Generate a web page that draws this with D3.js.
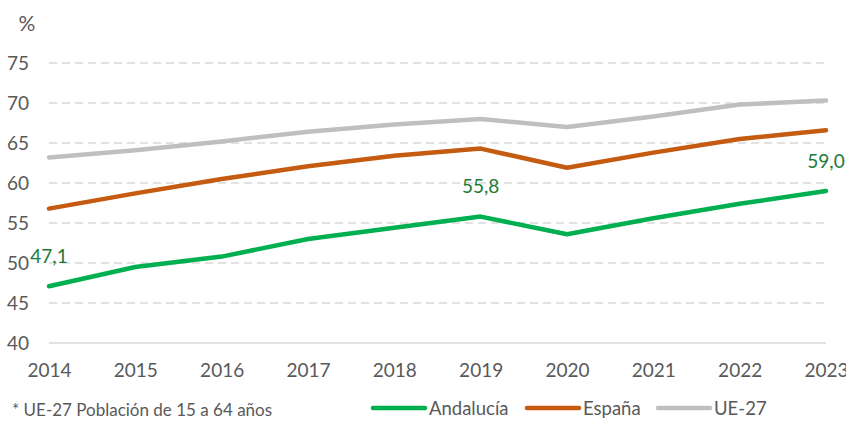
<!DOCTYPE html>
<html>
<head>
<meta charset="utf-8">
<script src="https://cdn.jsdelivr.net/npm/d3@7"></script>
<style>
  body { margin: 0; background: #fff; }
  svg text { font-family: Lato, "Open Sans", sans-serif; }
</style>
</head>
<body>
<svg class="chart"></svg>
<script>
const years = [2014, 2015, 2016, 2017, 2018, 2019, 2020, 2021, 2022, 2023]
const andalucia = [47.1, 49.5, 50.8, 53.0, 54.4, 55.8, 53.6, 55.6, 57.4, 59.0]
const espana = [56.8, 58.7, 60.5, 62.1, 63.4, 64.3, 61.9, 63.8, 65.5, 66.6]
const ue27 = [63.2, 64.1, 65.2, 66.4, 67.3, 68.0, 67.0, 68.3, 69.8, 70.3]
const yTicks = [40, 45, 50, 55, 60, 65, 70, 75]
const seriesNames = ['Andalucía', 'España', 'UE-27']
// only these points get a value label
const labelledYears = [2014, 2019, 2023]

const W = 846, H = 421
const svg = d3.select('svg.chart').attr('width', W).attr('height', H)

const x = d3.scalePoint().domain(years).range([49, 826])
const y = d3.scaleLinear().domain([40, 75]).range([343, 63])

const colors = ['#00B050', '#C55A11', '#BFBFBF']
const series = [andalucia, espana, ue27].map((vals, i) => ({
  name: seriesNames[i],
  color: colors[i],
  values: years.map((yr, j) => ({year: yr, v: vals[j]}))
}))

// gridlines
svg.append('g').selectAll('line')
  .data(yTicks)
  .join('line')
  .attr('x1', 49).attr('x2', 826)
  .attr('y1', d => y(d)).attr('y2', d => y(d))
  .attr('stroke', '#D9D9D9')
  .attr('stroke-width', 1.5)
  .attr('stroke-dasharray', d => d === 40 ? null : '8,5')

// y axis labels
const yAxis = svg.append('g')
  .attr('transform', 'translate(29,0)')
  .call(d3.axisLeft(y).tickValues(yTicks).tickSize(0).tickPadding(0))
yAxis.select('.domain').remove()
yAxis.selectAll('text')
  .attr('fill', '#595959')
  .style('font-size', '19px')
  .attr('dy', '0.36em')

svg.append('text')
  .attr('x', 27).attr('y', 31)
  .attr('text-anchor', 'middle')
  .attr('fill', '#595959')
  .style('font-size', '21px')
  .text('%')

// x axis labels (last one runs off the edge, as in the original)
const xAxis = svg.append('g')
  .attr('transform', 'translate(0,343)')
  .call(d3.axisBottom(x).tickSize(0))
xAxis.select('.domain').remove()
xAxis.selectAll('text')
  .attr('fill', '#595959')
  .attr('y', 34).attr('dy', null)
  .style('font-size', '19px')

// lines
const line = d3.line().x(d => x(d.year)).y(d => y(d.v))
svg.append('g').selectAll('path')
  .data(series.slice().reverse())
  .join('path')
  .attr('d', d => line(d.values))
  .attr('fill', 'none')
  .attr('stroke', d => d.color)
  .attr('stroke-width', 4.5)
  .attr('stroke-linejoin', 'round')
  .attr('stroke-linecap', 'round')

// value labels for Andalucía
const labelPts = series[0].values.filter(d => labelledYears.includes(d.year))
svg.append('g').selectAll('text')
  .data(labelPts)
  .join('text')
  .attr('x', d => x(d.year))
  .attr('y', d => y(d.v) - 23.5)
  .attr('text-anchor', 'middle')
  .attr('fill', '#217A3A')
  .style('font-size', '19px')
  .text(d => d3.format('.1f')(d.v).replace('.', ','))

// footnote
svg.append('text')
  .attr('x', 12).attr('y', 416)
  .attr('fill', '#595959')
  .style('font-size', '17px')
  .text('* UE-27 Población de 15 a 64 años')

// legend
const legendX = [372, 526, 657]
const leg = svg.append('g').selectAll('g')
  .data(series)
  .join('g')
  .attr('transform', (d, i) => `translate(${legendX[i]},408)`)
leg.append('line')
  .attr('x1', 1).attr('x2', 53)
  .attr('stroke', d => d.color)
  .attr('stroke-width', 4.5)
  .attr('stroke-linecap', 'round')
leg.append('text')
  .attr('x', 57).attr('y', 7)
  .attr('fill', '#595959')
  .style('font-size', '18.5px')
  .text(d => d.name)
</script>
</body>
</html>
